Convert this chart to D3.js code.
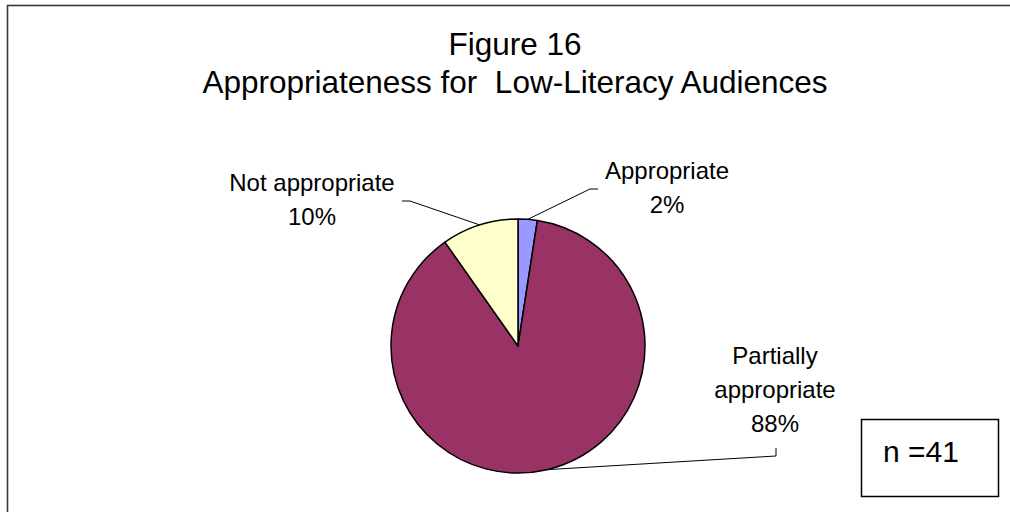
<!DOCTYPE html>
<html>
<head>
<meta charset="utf-8">
<script src="https://cdn.jsdelivr.net/npm/d3@7"></script>
<style>
  html, body { margin: 0; padding: 0; background: #fff; }
  svg { display: block; font-family: "Liberation Sans", Arial, sans-serif; }
  text { white-space: pre; }
</style>
</head>
<body>
<svg id="chart" width="1010" height="512"></svg>
<script>
// ---- data ----
const categories = ["Appropriate", "Partially appropriate", "Not appropriate"];
const counts = [1, 36, 4];
const percentLabels = ["2%", "88%", "10%"];
const colors = ["#9999FF", "#993366", "#FFFFCC"];
const titleLines = ["Figure 16", "Appropriateness for  Low-Literacy Audiences"];
const noteText = "n =41";

// ---- layout ----
const W = 1010, H = 512;
const cx = 518, cy = 346, R = 127;
// label layout: anchor (text centre), elbow point, end of leader line
const labelLayout = [
  { lines: ["Appropriate"], x: 667, y: 179, elbow: [590, 189], end: [598, 189] },
  { lines: ["Partially", "appropriate"], x: 775, y: 364, elbow: [776, 456], end: [776, 448] },
  { lines: ["Not appropriate"], x: 312, y: 191, elbow: [410, 201], end: [402, 201] }
];

const svg = d3.select("#chart");

// outer frame (extends past the right and bottom edges)
svg.append("rect")
  .attr("x", 7.5).attr("y", 5.5)
  .attr("width", W + 20).attr("height", H + 20)
  .attr("fill", "#fff").attr("stroke", "#3a3a3a").attr("stroke-width", 1.6);

// title
const title = svg.append("text")
  .attr("text-anchor", "middle")
  .attr("font-size", 31.5)
  .attr("fill", "#000")
  .attr("xml:space", "preserve");
titleLines.forEach((t, i) => {
  title.append("tspan").attr("x", 515).attr("y", 55 + i * 38).text(t);
});

// pie
const pie = d3.pie().sort(null).value(d => d)
  .startAngle(0).endAngle(2 * Math.PI);
const arcs = pie(counts);
const arc = d3.arc().innerRadius(0).outerRadius(R);

const g = svg.append("g").attr("transform", `translate(${cx},${cy})`);
g.selectAll("path")
  .data(arcs)
  .join("path")
  .attr("d", arc)
  .attr("fill", (d, i) => colors[i])
  .attr("stroke", "#000")
  .attr("stroke-width", 1.5)
  .attr("stroke-linejoin", "round");

// leader lines
arcs.forEach((a, i) => {
  const mid = (a.startAngle + a.endAngle) / 2;
  const sx = cx + R * Math.sin(mid);
  const sy = cy - R * Math.cos(mid);
  const L = labelLayout[i];
  svg.append("polyline")
    .attr("points", `${sx},${sy} ${L.elbow[0]},${L.elbow[1]} ${L.end[0]},${L.end[1]}`)
    .attr("fill", "none")
    .attr("stroke", "#000")
    .attr("stroke-width", 1);
});

// labels
labelLayout.forEach((L, i) => {
  const t = svg.append("text")
    .attr("text-anchor", "middle")
    .attr("font-size", 24)
    .attr("fill", "#000");
  const lines = L.lines.concat([percentLabels[i]]);
  lines.forEach((s, j) => {
    t.append("tspan").attr("x", L.x).attr("y", L.y + j * 34).text(s);
  });
});

// n box
svg.append("rect")
  .attr("x", 861.5).attr("y", 419.5)
  .attr("width", 137).attr("height", 77)
  .attr("fill", "#fff").attr("stroke", "#000").attr("stroke-width", 1.5);
svg.append("text")
  .attr("x", 883).attr("y", 462)
  .attr("font-size", 30)
  .attr("fill", "#000")
  .text(noteText);
</script>
</body>
</html>
